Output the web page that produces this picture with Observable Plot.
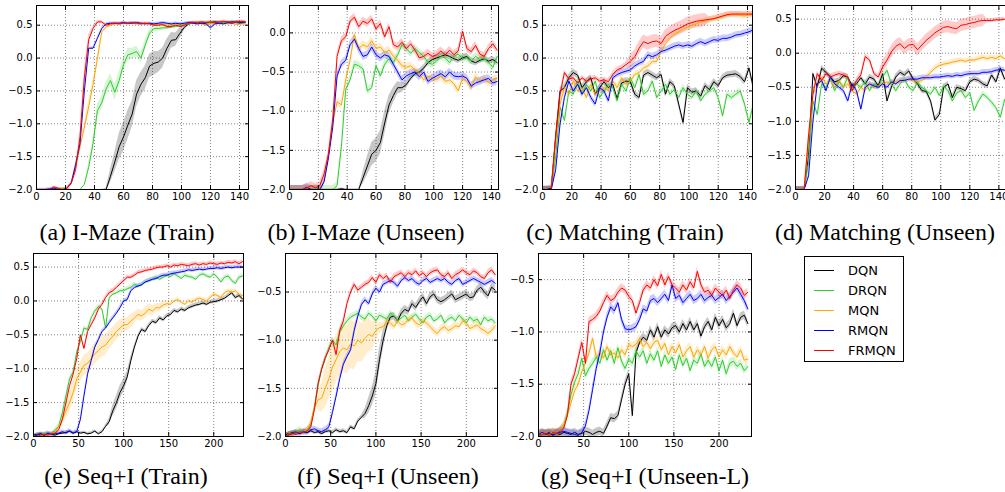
<!DOCTYPE html>
<html><head><meta charset="utf-8">
<script src="https://cdn.jsdelivr.net/npm/d3@7"></script>
<script src="https://cdn.jsdelivr.net/npm/@observablehq/plot@0.6"></script>
<style>
body{margin:0;background:#fff;}
#root{position:relative;width:1005px;height:492px;overflow:hidden;background:#fff;}
.panel{position:absolute;}
.cap{position:absolute;font-family:"Liberation Serif","Times New Roman",serif;font-size:24px;white-space:nowrap;transform:translate(-50%,-50%);line-height:1;color:#000;}
#legend{position:absolute;border:1px solid #000;background:#fff;font-family:"DejaVu Sans",sans-serif;font-size:13px;}
.li{position:absolute;left:0;height:20px;width:100%;}
.li .sw{position:absolute;left:9px;width:20px;top:9px;height:0;border-top:1.2px solid;}
.li .tx{position:absolute;left:43px;top:2px;}
</style></head><body><div id="root"></div>
<script>
const seriesNames = ["DQN","DRQN","MQN","RMQN","FRMQN"];
const seriesColors = ["#000000","#2ecc2e","#ffa500","#0000ff","#ff0000"];
const captions = ["(a) I-Maze (Train)","(b) I-Maze (Unseen)","(c) Matching (Train)","(d) Matching (Unseen)","(e) Seq+I (Train)","(f) Seq+I (Unseen)","(g) Seq+I (Unseen-L)"];
const xTicksTop = [0,20,40,60,80,100,120,140];
const xTicksBottom = [0,50,100,150,200];
const yTicksA = [-2,-1.5,-1,-0.5,0,0.5];
const yTicksB = [-2,-1.5,-1,-0.5,0];
const yTicksF = [-2,-1.5,-1,-0.5];
const epochStepTop = 3, epochStepBottom = 4;

// (a) I-Maze (Train)
const aDQN = [-2,-2,-2,-2,-2,-2,-2,-2,-2,-2, -2,-2,-2,-2,-2,-2,-2,-1.8,-1.58,-1.35, -1.2,-1.02,-0.85,-0.55,-0.4,-0.3,-0.12,-0.08,-0.06,0.0, 0.15,0.27,0.28,0.38,0.47,0.52,0.54,0.54,0.53,0.54, 0.54,0.55,0.54,0.53,0.54,0.55,0.54,0.53,0.54];
const aDRQN = [-2,-2,-2,-2,-2,-1.98,-1.98,-1.99,-2,-2, -2,-1.92,-1.66,-1.3,-0.8,-0.68,-0.47,-0.34,-0.52,-0.34, -0.1,0.05,0.07,0.1,0.0,0.2,0.38,0.45,0.45,0.46, 0.46,0.47,0.48,0.5,0.5,0.52,0.53,0.53,0.54,0.53, 0.54,0.53,0.54,0.55,0.53,0.54,0.54,0.55,0.54];
const aMQN = [-2,-2,-2,-2,-1.99,-2,-1.98,-2,-1.9,-1.65, -1.35,-1.05,-0.74,-0.4,-0.01,0.4,0.47,0.5,0.52,0.52, 0.53,0.52,0.53,0.52,0.52,0.53,0.52,0.5,0.51,0.52, 0.5,0.51,0.52,0.52,0.52,0.53,0.53,0.54,0.52,0.5, 0.52,0.53,0.52,0.53,0.52,0.53,0.51,0.52,0.52];
const aRMQN = [-2,-2,-2,-1.99,-1.98,-2,-2,-1.98,-1.9,-1.62, -1.3,-0.5,0.15,0.15,0.3,0.45,0.52,0.53,0.53,0.53, 0.54,0.53,0.53,0.54,0.53,0.52,0.53,0.52,0.53,0.54, 0.53,0.52,0.53,0.52,0.53,0.54,0.53,0.52,0.53,0.52, 0.46,0.52,0.53,0.52,0.54,0.53,0.55,0.54,0.55];
const aFRMQN = [-2,-2,-2,-2,-1.96,-1.98,-2,-1.98,-1.9,-1.7, -1.2,-0.3,0.28,0.45,0.55,0.55,0.5,0.52,0.53,0.52, 0.53,0.53,0.54,0.53,0.52,0.53,0.52,0.5,0.5,0.51, 0.48,0.48,0.5,0.48,0.5,0.53,0.54,0.54,0.55,0.54, 0.55,0.54,0.55,0.56,0.55,0.54,0.55,0.56,0.55];
const aDQNsd = [0,0,0,0,0,0,0,0,0,0, 0,0,0,0,0,0,0.02,0.1,0.15,0.2, 0.22,0.22,0.2,0.2,0.18,0.18,0.18,0.18,0.16,0.15, 0.14,0.12,0.1,0.08,0.05,0.03,0.02,0.02,0.02,0.02, 0.02,0.02,0.02,0.02,0.02,0.02,0.02,0.02,0.02];
const aDRQNsd = [0,0,0,0,0,0,0,0,0,0, 0,0,0.05,0.08,0.1,0.1,0.1,0.1,0.12,0.12, 0.1,0.1,0.08,0.08,0.08,0.08,0.06,0.05,0.04,0.04, 0.03,0.02,0.02,0.02,0.02,0.02,0.02,0.02,0.02,0.02, 0.02,0.02,0.02,0.02,0.02,0.02,0.02,0.02,0.02];
const aMQNsd = [0.01,0.01,0.01,0.01,0.01,0.01,0.01,0.01,0.01,0.05, 0.08,0.1,0.1,0.08,0.06,0.04,0.02,0.02,0.02,0.02, 0.02,0.02,0.02,0.02,0.02,0.02,0.02,0.02,0.02,0.02, 0.02,0.02,0.02,0.02,0.02,0.02,0.02,0.02,0.02,0.02, 0.02,0.02,0.02,0.02,0.02,0.02,0.02,0.02,0.02];
const aFRMQNsd = [0.01,0.01,0.01,0.01,0.01,0.01,0.01,0.01,0.01,0.05, 0.1,0.12,0.08,0.03,0.02,0.02,0.02,0.02,0.02,0.02, 0.02,0.02,0.02,0.02,0.02,0.02,0.02,0.02,0.02,0.02, 0.02,0.02,0.02,0.02,0.02,0.02,0.02,0.02,0.02,0.02, 0.02,0.02,0.02,0.02,0.02,0.02,0.02,0.02,0.02];

// (b) I-Maze (Unseen)
const bDQN = [-2,-2,-2,-2,-1.99,-2,-2,-2,-2,-2, -2,-2,-1.99,-2,-2,-2,-2,-1.85,-1.7,-1.55, -1.5,-1.4,-1.15,-0.92,-0.8,-0.7,-0.7,-0.66,-0.58,-0.52, -0.5,-0.45,-0.38,-0.34,-0.32,-0.3,-0.28,-0.3,-0.33,-0.35, -0.32,-0.3,-0.36,-0.38,-0.35,-0.33,-0.36,-0.34,-0.38];
const bDRQN = [-2,-2,-2,-2,-2,-2,-1.99,-2,-2,-2, -2,-1.95,-1.45,-0.72,-0.6,-0.4,-0.42,-0.46,-0.74,-0.7, -0.42,-0.55,-0.4,-0.33,-0.38,-0.28,-0.15,-0.2,-0.26,-0.2, -0.25,-0.3,-0.38,-0.4,-0.36,-0.3,-0.32,-0.38,-0.3,-0.27, -0.33,-0.32,-0.36,-0.3,-0.34,-0.32,-0.38,-0.44,-0.3];
const bMQN = [-2,-2,-2,-2,-1.99,-2,-2,-2,-1.9,-1.55, -1.15,-0.88,-0.92,-0.6,-0.35,-0.02,-0.2,-0.15,-0.18,-0.1, -0.2,-0.18,-0.25,-0.22,-0.3,-0.35,-0.42,-0.44,-0.42,-0.47, -0.52,-0.6,-0.55,-0.58,-0.6,-0.55,-0.62,-0.6,-0.65,-0.74, -0.58,-0.62,-0.7,-0.56,-0.62,-0.58,-0.64,-0.6,-0.58];
const bRMQN = [-2,-2,-2,-2,-1.97,-2,-2,-2,-1.9,-1.6, -1.2,-0.55,-0.4,-0.35,-0.15,-0.08,-0.2,-0.3,-0.28,-0.18, -0.28,-0.32,-0.28,-0.3,-0.4,-0.5,-0.6,-0.55,-0.52,-0.5, -0.56,-0.5,-0.62,-0.58,-0.55,-0.52,-0.56,-0.5,-0.55,-0.56, -0.55,-0.58,-0.68,-0.64,-0.62,-0.6,-0.58,-0.64,-0.62];
const bFRMQN = [-2,-2,-2,-2,-1.98,-1.95,-1.98,-1.95,-1.8,-1.55, -1.1,-0.3,-0.1,-0.05,0.15,0.2,0.08,0.15,0.12,0.18, 0.05,0.12,-0.05,0.08,-0.15,-0.18,-0.12,-0.2,-0.14,-0.22, -0.32,-0.3,-0.26,-0.3,-0.28,-0.23,-0.28,-0.22,-0.28,-0.23, 0.02,-0.2,-0.24,-0.16,-0.27,-0.3,-0.2,-0.14,-0.22];
const bDQNsd = [0.01,0.01,0.01,0.01,0.01,0.01,0.01,0.01,0.01,0.01, 0.01,0.01,0.01,0.01,0.01,0.01,0.01,0.08,0.12,0.15, 0.15,0.15,0.15,0.12,0.1,0.08,0.06,0.05,0.04,0.04, 0.04,0.04,0.04,0.04,0.04,0.04,0.04,0.04,0.04,0.04, 0.04,0.04,0.04,0.04,0.04,0.04,0.04,0.04,0.04];

// (c) Matching (Train)
const cDQN = [-2,-2,-1.98,-1.2,-0.5,-0.45,-0.3,-0.22,-0.26,-0.45, -0.36,-0.3,-0.55,-0.45,-0.36,-0.45,-0.4,-0.62,-0.38,-0.35, -0.36,-0.55,-0.6,-0.26,-0.22,-0.26,-0.3,-0.25,-0.55,-0.36, -0.42,-0.7,-0.98,-0.45,-0.52,-0.5,-0.58,-0.42,-0.48,-0.36, -0.42,-0.3,-0.26,-0.25,-0.24,-0.28,-0.36,-0.15,-0.45];
const cDRQN = [-2,-2,-2,-1.5,-0.75,-0.95,-0.5,-0.55,-0.35,-0.55, -0.4,-0.5,-0.35,-0.6,-0.5,-0.4,-0.45,-0.65,-0.4,-0.5, -0.3,-0.45,-0.25,-0.55,-0.5,-0.35,-0.6,-0.5,-0.4,-0.55, -0.48,-0.6,-0.45,-0.55,-0.6,-0.5,-0.65,-0.55,-0.5,-0.45, -0.6,-0.88,-0.55,-0.6,-0.55,-0.5,-0.7,-0.98,-0.7];
const cMQN = [-2,-2,-2,-1.3,-0.7,-0.45,-0.55,-0.35,-0.5,-0.45, -0.6,-0.4,-0.55,-0.5,-0.45,-0.5,-0.35,-0.45,-0.3,-0.4, -0.35,-0.25,-0.22,-0.15,-0.12,-0.05,-0.05,0.1,0.22,0.3, 0.36,0.4,0.44,0.47,0.5,0.52,0.55,0.56,0.58,0.6, 0.61,0.63,0.65,0.66,0.66,0.65,0.64,0.66,0.66];
const cRMQN = [-2,-2,-2,-1.7,-1.0,-0.6,-0.35,-0.5,-0.4,-0.55, -0.45,-0.6,-0.7,-0.45,-0.5,-0.65,-0.3,-0.25,-0.22,-0.2, -0.18,-0.12,-0.08,-0.05,0.05,0.02,0.05,0.1,0.12,0.15, 0.18,0.2,0.18,0.2,0.18,0.22,0.25,0.22,0.25,0.28, 0.27,0.3,0.3,0.32,0.35,0.36,0.38,0.4,0.43];
const cFRMQN = [-2,-2,-2,-1.2,-0.55,-0.22,-0.32,-0.3,-0.38,-0.3, -0.35,-0.32,-0.3,-0.35,-0.33,-0.36,-0.25,-0.18,-0.15,-0.1, -0.05,0.02,0.15,0.25,0.22,0.25,0.26,0.22,0.33,0.38, 0.42,0.45,0.48,0.52,0.54,0.56,0.57,0.58,0.59,0.6, 0.62,0.64,0.66,0.67,0.67,0.67,0.67,0.67,0.67];
const cFRMQNsd = [0.04,0.04,0.04,0.04,0.04,0.04,0.04,0.04,0.04,0.04, 0.04,0.04,0.04,0.04,0.04,0.04,0.04,0.04,0.04,0.04, 0.1,0.1,0.1,0.1,0.1,0.1,0.1,0.1,0.1,0.1, 0.1,0.1,0.1,0.1,0.1,0.1,0.1,0.1,0.04,0.04, 0.04,0.04,0.04,0.04,0.04,0.04,0.04,0.04,0.04];

// (d) Matching (Unseen)
const dDQN = [-2,-2,-2,-1.5,-0.3,-0.5,-0.22,-0.28,-0.35,-0.42, -0.4,-0.33,-0.35,-0.48,-0.45,-0.36,-0.45,-0.35,-0.38,-0.48, -0.3,-0.7,-0.5,-0.35,-0.28,-0.32,-0.26,-0.38,-0.45,-0.55, -0.56,-0.7,-0.98,-0.9,-0.5,-0.45,-0.65,-0.5,-0.52,-0.55, -0.42,-0.38,-0.4,-0.45,-0.48,-0.32,-0.42,-0.22,-0.38];
const dDRQN = [-2,-2,-2,-1.6,-0.7,-0.9,-0.45,-0.5,-0.38,-0.55, -0.42,-0.5,-0.35,-0.55,-0.45,-0.5,-0.42,-0.55,-0.45,-0.5, -0.35,-0.25,-0.45,-0.55,-0.45,-0.38,-0.5,-0.55,-0.42,-0.5, -0.55,-0.6,-0.5,-0.62,-0.48,-0.55,-0.7,-0.58,-0.55,-0.65, -0.58,-0.84,-0.7,-0.6,-0.65,-0.72,-0.8,-0.94,-0.68];
const dMQN = [-2,-2,-2,-1.3,-0.6,-0.5,-0.35,-0.45,-0.4,-0.5, -0.4,-0.5,-0.45,-0.55,-0.6,-0.5,-0.55,-0.45,-0.5,-0.48, -0.45,-0.42,-0.45,-0.42,-0.42,-0.4,-0.38,-0.4,-0.42,-0.4, -0.35,-0.28,-0.22,-0.18,-0.16,-0.15,-0.13,-0.12,-0.1,-0.12, -0.1,-0.1,-0.08,-0.06,-0.08,-0.06,-0.08,-0.04,-0.08];
const dRMQN = [-2,-2,-2,-1.8,-1.0,-0.45,-0.4,-0.55,-0.35,-0.45, -0.5,-0.55,-0.7,-0.45,-0.55,-0.82,-0.5,-0.45,-0.48,-0.5, -0.45,-0.5,-0.42,-0.45,-0.4,-0.4,-0.38,-0.38,-0.38,-0.36, -0.36,-0.36,-0.35,-0.35,-0.34,-0.33,-0.34,-0.32,-0.33,-0.31, -0.3,-0.3,-0.3,-0.28,-0.28,-0.27,-0.25,-0.24,-0.25];
const dFRMQN = [-2,-2,-2,-1.2,-0.6,-0.3,-0.4,-0.3,-0.35,-0.32, -0.3,-0.32,-0.35,-0.55,-0.4,-0.32,-0.05,-0.1,-0.3,-0.35, -0.2,-0.1,0.02,0.1,0.14,0.07,0.12,0.13,0.05,0.12, 0.19,0.24,0.3,0.34,0.38,0.39,0.37,0.36,0.41,0.42, 0.44,0.45,0.47,0.48,0.48,0.48,0.49,0.49,0.5];
const dFRMQNsd = [0.04,0.04,0.04,0.04,0.04,0.04,0.04,0.04,0.04,0.04, 0.04,0.04,0.04,0.04,0.04,0.04,0.04,0.04,0.04,0.04, 0.09,0.09,0.09,0.09,0.09,0.09,0.09,0.09,0.09,0.09, 0.09,0.09,0.09,0.09,0.09,0.09,0.09,0.09,0.09,0.09, 0.09,0.09,0.09,0.09,0.03,0.03,0.03,0.03,0.03];

// (e) Seq+I (Train)
const eDQN = [-1.98,-1.97,-1.96,-1.98,-1.96,-1.97,-1.98,-1.96,-1.95,-1.94, -1.92,-1.95,-1.93,-1.95,-1.94,-1.96,-1.95,-1.92,-1.96,-1.93, -1.85,-1.78,-1.62,-1.5,-1.35,-1.25,-1.12,-0.88,-0.68,-0.52, -0.42,-0.45,-0.36,-0.3,-0.32,-0.25,-0.28,-0.22,-0.2,-0.14, -0.16,-0.12,-0.14,-0.1,-0.08,-0.06,-0.05,-0.03,-0.05,-0.02, -0.01,0.0,0.02,0.04,0.08,0.12,0.05,0.08,0.03];
const eDRQN = [-2,-1.98,-1.97,-1.96,-1.95,-1.96,-1.9,-1.85,-1.65,-1.4, -1.15,-1.05,-0.75,-0.6,-0.4,-0.42,-0.25,-0.15,-0.08,-0.12, -0.4,0.05,0.1,0.12,0.15,0.15,0.18,0.2,0.25,0.22, 0.24,0.28,0.3,0.32,0.35,0.32,0.35,0.38,0.36,0.4, 0.37,0.33,0.38,0.36,0.35,0.32,0.38,0.4,0.37,0.35, 0.4,0.35,0.28,0.35,0.37,0.3,0.26,0.35,0.37];
const eMQN = [-2,-1.98,-2,-1.97,-1.98,-1.96,-1.94,-1.85,-1.75,-1.62, -1.5,-1.35,-1.15,-1.05,-0.95,-0.92,-0.85,-0.78,-0.73,-0.68, -0.65,-0.58,-0.52,-0.45,-0.4,-0.35,-0.35,-0.3,-0.25,-0.2, -0.22,-0.18,-0.12,-0.15,-0.1,-0.1,-0.06,-0.04,-0.05,0.0, 0.02,-0.02,-0.05,0.0,-0.02,0.02,0.04,0.02,0.0,0.05, 0.1,0.08,0.05,0.12,0.15,0.13,0.15,0.1,0.08];
const eRMQN = [-2,-1.98,-1.96,-1.98,-1.95,-1.97,-1.96,-1.95,-1.93,-1.95, -1.92,-1.95,-1.93,-1.75,-1.4,-1.08,-0.88,-0.68,-0.57,-0.45, -0.4,-0.32,-0.25,-0.18,-0.1,0.0,0.02,0.15,0.2,0.22, 0.24,0.28,0.3,0.32,0.33,0.36,0.38,0.38,0.4,0.41, 0.42,0.43,0.44,0.46,0.45,0.46,0.47,0.46,0.47,0.48, 0.48,0.49,0.48,0.49,0.5,0.49,0.5,0.5,0.5];
const eFRMQN = [-2,-2,-1.98,-1.97,-1.98,-1.96,-1.95,-1.9,-1.75,-1.5, -1.25,-1.08,-0.85,-0.5,-0.7,-0.45,-0.35,-0.25,-0.12,-0.05, 0.05,0.12,0.15,0.2,0.25,0.3,0.35,0.35,0.38,0.42, 0.43,0.45,0.46,0.47,0.49,0.5,0.5,0.52,0.5,0.53, 0.52,0.54,0.53,0.52,0.54,0.55,0.53,0.55,0.54,0.56, 0.55,0.54,0.56,0.55,0.57,0.56,0.58,0.55,0.58];
const eMQNsd = [0.02,0.02,0.02,0.02,0.02,0.02,0.02,0.02,0.08,0.12, 0.15,0.15,0.15,0.15,0.15,0.15,0.15,0.15,0.15,0.15, 0.15,0.14,0.13,0.12,0.12,0.1,0.1,0.1,0.08,0.08, 0.08,0.08,0.08,0.08,0.06,0.06,0.06,0.05,0.03,0.03, 0.03,0.03,0.03,0.03,0.03,0.03,0.03,0.03,0.03,0.03, 0.03,0.03,0.03,0.03,0.03,0.03,0.03,0.03,0.03];
const eDQNsd = [0.02,0.02,0.02,0.02,0.02,0.02,0.02,0.02,0.02,0.02, 0.02,0.02,0.02,0.02,0.02,0.02,0.02,0.02,0.02,0.02, 0.02,0.05,0.08,0.1,0.1,0.1,0.08,0.06,0.03,0.03, 0.03,0.03,0.03,0.03,0.03,0.03,0.03,0.03,0.03,0.03, 0.03,0.03,0.03,0.03,0.03,0.03,0.03,0.03,0.03,0.03, 0.03,0.03,0.03,0.03,0.03,0.03,0.03,0.03,0.03];

// (f) Seq+I (Unseen)
const fDQN = [-1.98,-1.97,-1.96,-1.95,-1.97,-1.95,-1.96,-1.94,-1.96,-1.95, -1.97,-1.95,-1.94,-1.96,-1.93,-1.95,-1.94,-1.96,-1.9,-1.92, -1.84,-1.8,-1.76,-1.68,-1.58,-1.45,-1.2,-1.0,-0.85,-0.76, -0.75,-0.8,-0.72,-0.68,-0.7,-0.62,-0.66,-0.6,-0.55,-0.62, -0.55,-0.52,-0.58,-0.6,-0.58,-0.55,-0.52,-0.58,-0.56,-0.54, -0.52,-0.56,-0.55,-0.48,-0.45,-0.5,-0.54,-0.45,-0.48];
const fDRQN = [-2,-1.98,-1.97,-1.95,-1.93,-1.95,-1.94,-1.88,-1.7,-1.48, -1.3,-1.2,-1.08,-1.0,-1.05,-0.92,-0.85,-0.8,-0.76,-0.74, -0.72,-0.76,-0.78,-0.72,-0.75,-0.8,-0.74,-0.76,-0.78,-0.72, -0.75,-0.8,-0.77,-0.74,-0.8,-0.76,-0.73,-0.78,-0.82,-0.76, -0.74,-0.8,-0.78,-0.74,-0.82,-0.78,-0.76,-0.8,-0.74,-0.78, -0.82,-0.76,-0.8,-0.78,-0.84,-0.76,-0.8,-0.78,-0.82];
const fMQN = [-2,-1.97,-1.98,-1.96,-1.97,-1.95,-1.93,-1.85,-1.7,-1.62, -1.6,-1.5,-1.4,-1.28,-1.2,-1.12,-1.08,-1.1,-1.04,-1.06, -1.0,-1.03,-0.98,-0.94,-0.96,-0.9,-0.87,-0.86,-0.8,-0.82, -0.86,-0.8,-0.84,-0.83,-0.78,-0.77,-0.82,-0.84,-0.8,-0.82, -0.86,-0.9,-0.93,-0.88,-0.86,-0.9,-0.88,-0.85,-0.86,-0.8, -0.82,-0.88,-0.86,-0.84,-0.88,-0.9,-0.93,-0.9,-0.85];
const fRMQN = [-2,-1.98,-1.97,-1.96,-1.97,-1.95,-1.96,-1.93,-1.92,-1.94, -1.95,-1.93,-1.9,-1.75,-1.58,-1.4,-1.25,-1.17,-1.1,-0.9, -0.75,-0.63,-0.58,-0.62,-0.52,-0.46,-0.5,-0.42,-0.4,-0.38, -0.4,-0.44,-0.38,-0.35,-0.38,-0.36,-0.4,-0.42,-0.38,-0.36, -0.4,-0.38,-0.36,-0.38,-0.36,-0.4,-0.42,-0.38,-0.36,-0.42, -0.4,-0.38,-0.36,-0.38,-0.4,-0.42,-0.4,-0.38,-0.41];
const fFRMQN = [-2,-1.98,-1.97,-1.98,-1.95,-1.96,-1.94,-1.9,-1.72,-1.45, -1.3,-1.18,-1.1,-1.0,-1.15,-0.9,-0.8,-0.62,-0.5,-0.42, -0.48,-0.45,-0.42,-0.4,-0.35,-0.4,-0.32,-0.36,-0.33,-0.4, -0.34,-0.32,-0.3,-0.34,-0.3,-0.32,-0.28,-0.33,-0.3,-0.34, -0.3,-0.28,-0.27,-0.32,-0.34,-0.3,-0.36,-0.32,-0.3,-0.27, -0.3,-0.32,-0.28,-0.3,-0.34,-0.36,-0.3,-0.27,-0.32];
const fMQNsd = [0.02,0.02,0.02,0.02,0.02,0.02,0.02,0.02,0.02,0.1, 0.15,0.2,0.22,0.25,0.25,0.25,0.25,0.25,0.25,0.25, 0.22,0.2,0.2,0.18,0.15,0.1,0.06,0.04,0.04,0.04, 0.04,0.04,0.04,0.04,0.04,0.04,0.04,0.04,0.04,0.04, 0.04,0.04,0.04,0.04,0.04,0.04,0.04,0.04,0.04,0.04, 0.04,0.04,0.04,0.04,0.04,0.04,0.04,0.04,0.04];
const fDQNsd = [0.02,0.02,0.02,0.02,0.02,0.02,0.02,0.02,0.02,0.02, 0.02,0.02,0.02,0.02,0.02,0.02,0.02,0.02,0.02,0.02, 0.02,0.02,0.05,0.08,0.1,0.12,0.12,0.1,0.06,0.04, 0.04,0.04,0.04,0.04,0.04,0.04,0.04,0.04,0.04,0.04, 0.04,0.04,0.04,0.04,0.04,0.04,0.04,0.04,0.04,0.04, 0.04,0.04,0.04,0.04,0.04,0.04,0.04,0.04,0.04];

// (g) Seq+I (Unseen-L)
const gDQN = [-1.99,-1.97,-1.98,-1.96,-1.98,-1.97,-1.98,-1.96,-1.97,-1.98, -1.96,-1.98,-1.97,-1.95,-1.96,-1.98,-1.96,-1.95,-1.97,-1.9, -1.82,-1.83,-1.8,-1.65,-1.5,-1.4,-1.8,-1.2,-1.1,-1.05, -1.08,-0.98,-1.05,-0.95,-1.05,-0.98,-1.02,-0.96,-0.94,-1.0, -0.92,-0.98,-0.9,-0.98,-0.92,-1.04,-0.95,-0.9,-0.98,-0.86, -0.94,-0.88,-0.96,-0.92,-0.82,-0.94,-0.86,-0.84,-0.92];
const gDRQN = [-2,-1.98,-1.97,-1.98,-1.96,-1.97,-1.95,-1.9,-1.78,-1.6, -1.48,-1.4,-1.25,-1.42,-1.35,-1.3,-1.24,-1.3,-1.17,-1.27, -1.18,-1.3,-1.15,-1.28,-1.35,-1.26,-1.3,-1.18,-1.24,-1.18, -1.3,-1.21,-1.27,-1.18,-1.33,-1.22,-1.3,-1.24,-1.36,-1.22, -1.32,-1.25,-1.37,-1.27,-1.3,-1.21,-1.33,-1.27,-1.33,-1.24, -1.37,-1.27,-1.4,-1.3,-1.28,-1.33,-1.3,-1.37,-1.33];
const gMQN = [-1.98,-1.97,-1.99,-1.97,-1.96,-1.98,-1.95,-1.9,-1.8,-1.68, -1.56,-1.5,-1.38,-1.3,-1.2,-1.06,-1.24,-1.2,-1.25,-1.14, -1.22,-1.2,-1.25,-1.17,-1.22,-1.12,-1.14,-1.12,-1.06,-1.14, -1.1,-1.16,-1.1,-1.08,-1.17,-1.11,-1.22,-1.14,-1.2,-1.12, -1.24,-1.18,-1.14,-1.24,-1.17,-1.22,-1.14,-1.25,-1.17,-1.14, -1.24,-1.17,-1.22,-1.14,-1.2,-1.24,-1.17,-1.27,-1.26];
const gRMQN = [-1.98,-1.96,-1.98,-1.97,-1.99,-1.97,-1.96,-1.95,-1.96,-1.97, -1.98,-1.99,-1.96,-1.9,-1.75,-1.55,-1.35,-1.2,-1.0,-0.86, -0.76,-0.8,-0.72,-0.88,-0.97,-0.98,-0.97,-0.95,-0.88,-0.78, -0.8,-0.7,-0.68,-0.72,-0.68,-0.64,-0.7,-0.55,-0.68,-0.65, -0.72,-0.68,-0.64,-0.7,-0.68,-0.64,-0.7,-0.67,-0.65,-0.7, -0.67,-0.64,-0.7,-0.66,-0.62,-0.58,-0.64,-0.7,-0.78];
const gFRMQN = [-2,-1.98,-1.97,-1.99,-1.96,-1.97,-1.95,-1.92,-1.8,-1.5, -1.4,-1.25,-1.1,-1.3,-0.9,-0.88,-0.85,-0.8,-0.72,-0.65, -0.7,-0.68,-0.62,-0.58,-0.6,-0.66,-0.7,-0.82,-0.72,-0.6, -0.55,-0.58,-0.5,-0.56,-0.45,-0.55,-0.47,-0.55,-0.58,-0.62, -0.55,-0.6,-0.52,-0.58,-0.42,-0.55,-0.62,-0.6,-0.65,-0.58, -0.62,-0.65,-0.6,-0.68,-0.6,-0.55,-0.58,-0.65,-0.62];

const panels = [
  {vals:[aDQN,aDRQN,aMQN,aRMQN,aFRMQN], sds:[aDQNsd,aDRQNsd,aMQNsd,null,aFRMQNsd], sd:0.02, step:epochStepTop,
   pos:{left:0,top:0,width:250,height:205,ml:36,mr:2,mt:5,mb:16}, xd:[0,146.2], yd:[-2,0.8], xt:xTicksTop, yt:yTicksA, cap:[127,232]},
  {vals:[bDQN,bDRQN,bMQN,bRMQN,bFRMQN], sds:[bDQNsd,null,null,null,null], sd:0.05, step:epochStepTop,
   pos:{left:250,top:0,width:250,height:205,ml:39,mr:2,mt:5,mb:16}, xd:[0,144.9], yd:[-2,0.35], xt:xTicksTop, yt:yTicksB, cap:[366,232]},
  {vals:[cDQN,cDRQN,cMQN,cRMQN,cFRMQN], sds:[null,null,null,null,cFRMQNsd], sd:0.05, step:epochStepTop,
   pos:{left:500,top:0,width:254,height:205,ml:42,mr:2,mt:5,mb:16}, xd:[0,143.4], yd:[-2,0.8], xt:xTicksTop, yt:yTicksA, cap:[625,232]},
  {vals:[dDQN,dDRQN,dMQN,dRMQN,dFRMQN], sds:[null,null,null,null,dFRMQNsd], sd:0.04, step:epochStepTop,
   pos:{left:755,top:0,width:260,height:205,ml:40,mr:5,mt:5,mb:16}, xd:[0,148], yd:[-2,0.7], xt:xTicksTop, yt:yTicksA, cap:[885,232]},
  {vals:[eDQN,eDRQN,eMQN,eRMQN,eFRMQN], sds:[eDQNsd,null,eMQNsd,null,null], sd:0.03, step:epochStepBottom,
   pos:{left:0,top:248,width:250,height:204,ml:33,mr:7,mt:5,mb:16}, xd:[0,233], yd:[-2,0.7], xt:xTicksBottom, yt:yTicksA, cap:[126,476]},
  {vals:[fDQN,fDRQN,fMQN,fRMQN,fFRMQN], sds:[fDQNsd,null,fMQNsd,null,null], sd:0.03, step:epochStepBottom,
   pos:{left:250,top:248,width:250,height:204,ml:35,mr:3,mt:5,mb:16}, xd:[0,234.5], yd:[-2,-0.1], xt:xTicksBottom, yt:yTicksF, cap:[388,476]},
  {vals:[gDQN,gDRQN,gMQN,gRMQN,gFRMQN], sds:[null,null,null,null,null], sd:0.04, step:epochStepBottom,
   pos:{left:500,top:248,width:255,height:204,ml:38,mr:4,mt:5,mb:16}, xd:[0,236], yd:[-2,-0.25], xt:xTicksBottom, yt:yTicksF, cap:[645,476]}
];

const root = document.getElementById("root");
const yFmt = d3.format(".1f");

panels.forEach((p, pi) => {
  const marks = [
    Plot.gridX(p.xt, {stroke:"#555", strokeOpacity:0.9, strokeDasharray:"1,2", strokeWidth:0.8}),
    Plot.gridY(p.yt, {stroke:"#555", strokeOpacity:0.9, strokeDasharray:"1,2", strokeWidth:0.8})
  ];
  const perSeries = seriesNames.map((name, k) => p.vals[k].map((v, i) => ({
    x: i * p.step, y: v, s: (p.sds[k] && p.sds[k][i] != null) ? p.sds[k][i] : p.sd
  })));
  perSeries.forEach((d, k) => {
    marks.push(Plot.areaY(d, {x:"x", y1: r => r.y - r.s, y2: r => r.y + r.s, fill: seriesColors[k], fillOpacity: k === 0 ? 0.22 : 0.2, clip: true, curve:"linear"}));
  });
  perSeries.forEach((d, k) => {
    marks.push(Plot.line(d, {x:"x", y:"y", stroke: seriesColors[k], strokeWidth: 1, clip: true}));
  });
  marks.push(Plot.frame({stroke:"#000", strokeWidth:1}));
  marks.push(Plot.axisX(p.xt, {tickSize:0, tickPadding:3, label:null, tickFormat: d => String(d)}));
  marks.push(Plot.axisY(p.yt, {tickSize:0, tickPadding:4, label:null, tickFormat: d => yFmt(d)}));
  marks.push(Plot.axisX(p.xt, {anchor:"bottom", tickSize:-4, label:null, tickFormat: () => ""}));
  marks.push(Plot.axisX(p.xt, {anchor:"top", tickSize:-4, label:null, tickFormat: () => ""}));
  marks.push(Plot.axisY(p.yt, {anchor:"left", tickSize:-4, label:null, tickFormat: () => ""}));
  marks.push(Plot.axisY(p.yt, {anchor:"right", tickSize:-4, label:null, tickFormat: () => ""}));

  const svg = Plot.plot({
    width: p.pos.width, height: p.pos.height,
    marginLeft: p.pos.ml, marginRight: p.pos.mr, marginTop: p.pos.mt, marginBottom: p.pos.mb,
    x: {domain: p.xd, label: null},
    y: {domain: p.yd, label: null},
    style: {fontFamily: "'DejaVu Sans', sans-serif", fontSize: "10px", background: "transparent", color: "#000", overflow: "visible"},
    marks
  });
  svg.classList.add("panel");
  svg.style.left = p.pos.left + "px";
  svg.style.top = p.pos.top + "px";
  root.appendChild(svg);

  const cap = document.createElement("div");
  cap.className = "cap";
  cap.textContent = captions[pi];
  cap.style.left = p.cap[0] + "px";
  cap.style.top = p.cap[1] + "px";
  root.appendChild(cap);
});

// legend
const legend = document.createElement("div");
legend.id = "legend";
legend.style.left = "804px";
legend.style.top = "256px";
legend.style.width = "98px";
legend.style.height = "104px";
seriesNames.forEach((name, k) => {
  const row = document.createElement("div");
  row.className = "li";
  row.style.top = (4 + k * 20) + "px";
  const sw = document.createElement("div");
  sw.className = "sw";
  sw.style.borderTopColor = seriesColors[k];
  const tx = document.createElement("div");
  tx.className = "tx";
  tx.textContent = name;
  row.appendChild(sw); row.appendChild(tx);
  legend.appendChild(row);
});
root.appendChild(legend);
</script>
</body></html>
